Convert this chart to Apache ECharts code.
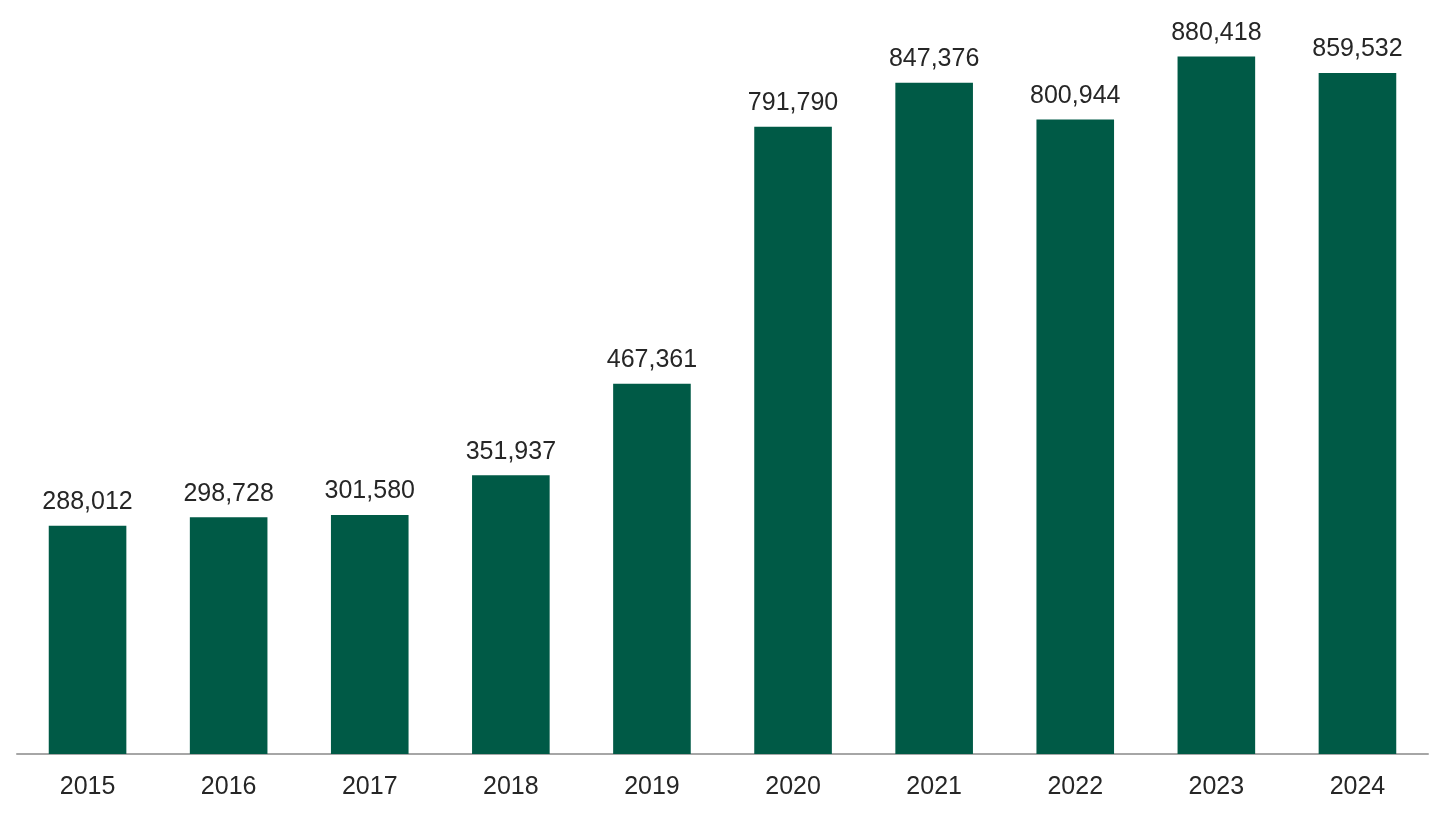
<!DOCTYPE html>
<html>
<head>
<meta charset="utf-8">
<script src="https://cdn.jsdelivr.net/npm/echarts@6/dist/echarts.min.js"></script>
<style>
    html, body { margin: 0; padding: 0; background: #fff; }
    #chart { width: 1440px; height: 813px; }
</style>
</head>
<body>
<div id="chart"></div>
<script>
/*图表数据*/
var years = ['2015', '2016', '2017', '2018', '2019', '2020', '2021', '2022', '2023', '2024'];
var totals = [288012, 298728, 301580, 351937, 467361, 791790, 847376, 800944, 880418, 859532];

(function () {
    var myChart = echarts.init(document.getElementById('chart'));
    var option = {
        animation: false,
        grid: {
            left: 17,
            right: 12,
            top: 41,
            bottom: 59
        },
        xAxis: {
            type: 'category',
            data: years,
            axisLine: { lineStyle: { color: '#a6a6a6', width: 2 } },
            axisTick: { show: false },
            axisLabel: {
                color: '#262626',
                fontSize: 25,
                fontFamily: 'Liberation Sans, Arial, sans-serif',
                margin: 21
            }
        },
        yAxis: {
            type: 'value',
            min: 0,
            max: 900000,
            show: false,
            splitLine: { show: false }
        },
        series: [{
            type: 'bar',
            data: totals,
            barWidth: '55%',
            itemStyle: { color: '#005a46' },
            label: {
                show: true,
                position: 'top',
                distance: 11,
                color: '#262626',
                fontSize: 25,
                fontFamily: 'Liberation Sans, Arial, sans-serif',
                formatter: function (p) {
                    return p.value.toLocaleString('en-US');
                }
            }
        }]
    };
    myChart.setOption(option);
    window.addEventListener("resize", function () {
        myChart.resize();
    });
})();
</script>
</body>
</html>
